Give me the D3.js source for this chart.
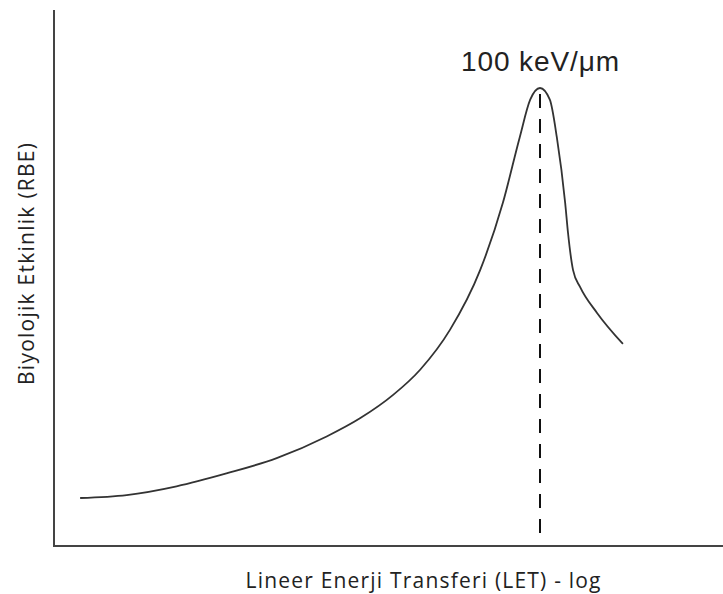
<!DOCTYPE html>
<html>
<head>
<meta charset="utf-8">
<script src="https://cdn.jsdelivr.net/npm/d3@7"></script>
<style>
  body { margin: 0; background: #fff; }
</style>
</head>
<body>
<div id="wrapper"></div>
<script>
// LET (keV/um, log) and RBE
const letValues = [0.145, 0.281, 0.571, 1.16, 2.37, 4.82, 7.74, 12.4, 18.2, 27.8, 42.7, 59, 75, 87, 100, 115, 127, 143, 149, 160, 177, 225, 325];
const rbeValues = [1.0, 1.05, 1.20, 1.42, 1.68, 2.05, 2.36, 2.76, 3.19, 3.87, 4.89, 6.04, 7.16, 7.80, 8.0, 7.80, 7.16, 6.04, 5.52, 4.89, 4.60, 4.16, 3.63];
const peakLet = 100;
const peakLabel = "100 keV/\u03bcm";
const xTitle = "Lineer Enerji Transferi (LET) - log";
const yTitle = "Biyolojik Etkinlik (RBE)";

const chartW = 723, chartH = 594;
const axisLeft = 54, axisBottom = 546, axisTop = 10;

const x = d3.scaleLog().domain([0.1, 1000]).range([axisLeft, 702]);
const y = d3.scaleLinear().domain([1, 8]).range([498, 88]);

const svg = d3.select("#wrapper")
  .append("svg")
  .attr("width", chartW)
  .attr("height", chartH);

const data = letValues.map((l, i) => ({ let: l, rbe: rbeValues[i] }));

// axes (no ticks, just the frame lines)
svg.append("line")
  .attr("x1", axisLeft).attr("x2", axisLeft)
  .attr("y1", axisTop).attr("y2", axisBottom)
  .attr("stroke", "#444").attr("stroke-width", 2);
svg.append("line")
  .attr("x1", axisLeft - 1).attr("x2", chartW)
  .attr("y1", axisBottom).attr("y2", axisBottom)
  .attr("stroke", "#444").attr("stroke-width", 2);

// dashed line at peak
svg.append("line")
  .attr("x1", x(peakLet)).attr("x2", x(peakLet))
  .attr("y1", y(d3.max(rbeValues)) + 6).attr("y2", axisBottom - 2)
  .attr("stroke", "#111").attr("stroke-width", 2)
  .attr("stroke-dasharray", "14,11");

const line = d3.line()
  .curve(d3.curveMonotoneX)
  .x(d => x(d.let))
  .y(d => y(d.rbe));

svg.append("path")
  .datum(data)
  .attr("d", line)
  .attr("fill", "none")
  .attr("stroke", "#333")
  .attr("stroke-width", 1.8);

svg.append("text")
  .attr("x", x(peakLet))
  .attr("y", 71)
  .attr("text-anchor", "middle")
  .attr("font-family", "Liberation Sans, Arial, sans-serif")
  .attr("font-size", 28)
  .attr("textLength", 158)
  .attr("fill", "#222")
  .text(peakLabel);

svg.append("text")
  .attr("x", 423)
  .attr("y", 588)
  .attr("text-anchor", "middle")
  .attr("font-family", "Open Sans, sans-serif")
  .attr("font-size", 21)
  .attr("textLength", 355)
  .attr("fill", "#222")
  .text(xTitle);

svg.append("text")
  .attr("transform", "translate(34, 264) rotate(-90)")
  .attr("text-anchor", "middle")
  .attr("font-family", "Open Sans, sans-serif")
  .attr("font-size", 21)
  .attr("textLength", 242)
  .attr("fill", "#222")
  .text(yTitle);
</script>
</body>
</html>
